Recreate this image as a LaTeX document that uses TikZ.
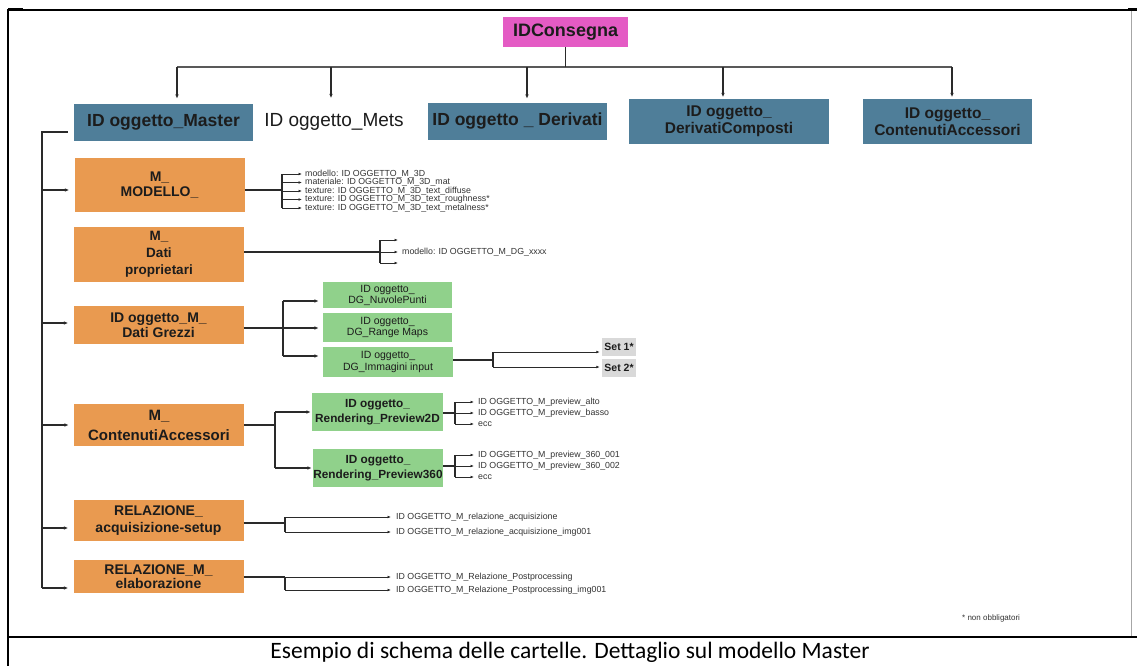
\documentclass[tikz,border=0pt]{standalone}
\usepackage{fontspec}
\setmainfont{Liberation Sans}
\newfontfamily\capfont{Carlito}
\usetikzlibrary{arrows.meta,calc}

\definecolor{pinkC}{HTML}{E45BC4}
\definecolor{blueC}{HTML}{4F7E99}
\definecolor{orangeC}{HTML}{E99A50}
\definecolor{greenC}{HTML}{90D18B}
\definecolor{grayC}{HTML}{D9D9D9}
\definecolor{lineC}{HTML}{2A2A2A}
\definecolor{txtC}{HTML}{1C1C1C}

\newcommand\fsz[2]{\fontsize{#1}{#2}\selectfont}

\begin{document}
\begin{tikzpicture}[x=1pt,y=-1pt,
  box/.style={draw=none, inner sep=0pt, align=center, text=txtC},
  bluebox/.style={box, fill=blueC},
  orbox/.style={box, fill=orangeC, minimum width=170pt},
  grbox/.style={box, fill=greenC},
  setbox/.style={box, fill=grayC, minimum width=34pt, minimum height=18pt, font=\fsz{10.5}{11}\bfseries},
  conn/.style={draw=lineC, line width=1.1pt},
  bus/.style={draw=black!65, line width=2pt},
  arr/.style={conn, -{Latex[length=4.5pt,width=3.6pt]}},
  sarr/.style={draw=lineC, line width=0.8pt, -{Latex[length=3.5pt,width=2.8pt]}},
  slabel/.style={anchor=west, inner sep=0pt, text=black!80, font=\fsz{8.8}{9}},
]
\useasboundingbox (0,0) rectangle (1137,666);
\fill[white] (0,0) rectangle (1137,666);

% table frame and caption row
\draw[black, line width=1.6pt] (8,666) -- (8,10) -- (1137,10);
\draw[black, line width=3pt] (8,10) -- (23,10);
\draw[black, line width=3pt] (1128,10) -- (1137,10);
\draw[black!35, line width=1pt] (1131,11) -- (1131,636);
\draw[black, line width=2pt] (8,637) -- (1137,637);
\node[font=\capfont\fsz{23.5}{26}] (cap) at (570,652) {Esempio di schema delle cartelle. Dettaglio sul modello Master};

% top level
\node[box, fill=pinkC, minimum width=125pt, minimum height=30pt, font=\fsz{18}{20}\bfseries] (cons) at (565.5,32) {IDConsegna};
\node[bluebox, minimum width=179pt, minimum height=37pt, font=\fsz{17.5}{19}\bfseries] (master) at (163.5,122.5) {ID oggetto\_Master};
\node[box, minimum height=37pt, font=\fsz{19}{21}] (mets) at (334,122) {ID oggetto\_Mets};
\node[bluebox, minimum width=179pt, minimum height=37pt, font=\fsz{17.5}{19}\bfseries] (deriv) at (517.5,121.5) {ID oggetto \_ Derivati};
\node[bluebox, minimum width=200pt, minimum height=45pt, font=\fsz{15.5}{17}\bfseries] (dcomp) at (729,121.5) {ID oggetto\_\\DerivatiComposti};
\node[bluebox, minimum width=169pt, minimum height=45pt, font=\fsz{15.5}{17}\bfseries] (cacc) at (947.5,121.5) {ID oggetto\_\\ContenutiAccessori};

\coordinate (b1) at (177,67);
\coordinate (b2) at (331,67);
\coordinate (b3) at (527,67);
\coordinate (b4) at (723,67);
\coordinate (b5) at (952,67);
\draw[bus] (b1) -- (b5);
\draw[conn] (cons.south) -- (cons.south |- b1);
\draw[arr, shorten >=5pt] (b1) -- (b1 |- master.north);
\draw[arr, shorten >=5pt] (b2) -- (b2 |- mets.north);
\draw[arr, shorten >=4pt] (b3) -- (b3 |- deriv.north);
\draw[arr, shorten >=1.5pt] (b4) -- (b4 |- dcomp.north);
\draw[arr, shorten >=1.5pt] (b5) -- (b5 |- cacc.north);

% folders of the Master model
\node[orbox, minimum height=54pt, font=\fsz{14}{15}\bfseries] (modello) at (159.5,185) {M\_\\MODELLO\_};
\node[orbox, minimum height=55pt, font=\fsz{13.5}{17}\bfseries] (datiprop) at (159,254.5) {M\_\\Dati\\proprietari};
\node[orbox, minimum height=38pt, font=\fsz{14}{15}\bfseries] (grezzi) at (158.5,325) {ID oggetto\_M\_\\Dati Grezzi};
\node[orbox, minimum height=42pt, font=\fsz{15}{20}\bfseries] (contacc) at (159,425) {M\_\\ContenutiAccessori};
\node[orbox, minimum height=41pt, font=\fsz{14}{17}\bfseries] (relacq) at (158.5,520.5) {RELAZIONE\_\\acquisizione-setup};
\node[orbox, minimum height=33pt, font=\fsz{14}{14.5}\bfseries] (relelab) at (158.5,576.5) {RELAZIONE\_M\_\\elaborazione};

% trunk on the left
\coordinate (tTop) at (42,132);
\coordinate (tMod) at (42,190);
\coordinate (tGre) at (42,323);
\coordinate (tCon) at (42,425);
\coordinate (tAcq) at (42,528);
\coordinate (tBot) at (42,588);
\draw[conn] ($(master.west)+(-6,9.5)$) -- (tTop) -- (tBot);
\draw[arr, shorten >=5pt] (tMod) -- (tMod -| modello.west);
\draw[arr, shorten >=5pt] (tGre) -- (tGre -| grezzi.west);
\draw[arr, shorten >=5pt] (tCon) -- (tCon -| contacc.west);
\draw[arr, shorten >=5pt] (tAcq) -- (tAcq -| relacq.west);
\draw[arr, shorten >=5pt] (tBot) -- (tBot -| relelab.west);

% MODELLO files
\node[slabel] (t1) at (305,174) {modello: ID OGGETTO\_M\_3D};
\node[slabel] (t2) at (305,182.5) {materiale: ID OGGETTO\_M\_3D\_mat};
\node[slabel] (t3) at (305,191) {texture: ID OGGETTO\_M\_3D\_text\_diffuse};
\node[slabel] (t4) at (305,199.5) {texture: ID OGGETTO\_M\_3D\_text\_roughness*};
\node[slabel] (t5) at (305,208) {texture: ID OGGETTO\_M\_3D\_text\_metalness*};
\coordinate (mA) at (282,190);
\draw[conn] (mA -| modello.east) -- (mA);
\draw[conn] (t1.west -| mA) -- (t5.west -| mA);
\foreach \t in {t1,t2,t3,t4,t5}
  \draw[sarr, shorten >=3pt] (\t.west -| mA) -- (\t.west);

% Dati proprietari files
\coordinate (dA) at (380,252);
\node[slabel] (d2) at (402,252) {modello: ID OGGETTO\_M\_DG\_xxxx};
\coordinate (d1) at (398,240);
\coordinate (d3) at (398,263);
\draw[conn] (dA -| datiprop.east) -- (dA);
\draw[conn] (d1 -| dA) -- (d3 -| dA);
\draw[sarr] (d1 -| dA) -- (d1);
\draw[sarr, shorten >=4pt] (dA) -- (d2.west);
\draw[sarr] (d3 -| dA) -- (d3);

% Dati Grezzi subfolders
\node[grbox, minimum width=129pt, minimum height=26pt, font=\fsz{10.5}{11}] (nuv) at (387.5,295) {ID oggetto\_\\DG\_NuvolePunti};
\node[grbox, minimum width=129pt, minimum height=29pt, font=\fsz{10.5}{11.5}] (range) at (387.5,327.5) {ID oggetto\_\\DG\_Range Maps};
\node[grbox, minimum width=130pt, minimum height=30pt, font=\fsz{10.5}{12}] (imm) at (388,362) {ID oggetto\_\\DG\_Immagini input};
\coordinate (gA) at (283,328);
\coordinate (g1) at (283,301);
\coordinate (g3) at (283,356);
\draw[conn] (g1) -- (g3);
\draw[arr, shorten >=4pt] (gA -| grezzi.east) -- (gA -| range.west);
\draw[arr, shorten >=4pt] (g1) -- (g1 -| nuv.west);
\draw[arr, shorten >=4pt] (g3) -- (g3 -| imm.west);

% image sets
\node[setbox] (set1) at (619,347) {Set 1*};
\node[setbox] (set2) at (619,368) {Set 2*};
\coordinate (iA) at (493,360);
\coordinate (i1) at (493,352);
\coordinate (i2) at (493,367);
\draw[conn] (iA -| imm.east) -- (iA);
\draw[conn] (i1) -- (i2);
\draw[sarr, shorten >=2pt] (i1) -- (i1 -| set1.west);
\draw[sarr, shorten >=2pt] (i2) -- (i2 -| set2.west);

% ContenutiAccessori subfolders
\node[grbox, minimum width=131pt, minimum height=38pt, font=\fsz{11.8}{15.5}\bfseries] (p2d) at (377.5,412) {ID oggetto\_\\Rendering\_Preview2D};
\node[grbox, minimum width=130pt, minimum height=38pt, font=\fsz{11.8}{15.5}\bfseries] (p360) at (378,468) {ID oggetto\_\\Rendering\_Preview360};
\coordinate (cA) at (275,425);
\draw[conn] (cA -| contacc.east) -- (cA);
\draw[conn] (p2d.west -| cA) -- (p360.west -| cA);
\draw[arr, shorten >=1pt] (p2d.west -| cA) -- (p2d.west);
\draw[arr, shorten >=1pt] (p360.west -| cA) -- (p360.west);

% preview files
\node[slabel] (q1) at (478,402) {ID OGGETTO\_M\_preview\_alto};
\node[slabel] (q2) at (478,413) {ID OGGETTO\_M\_preview\_basso};
\node[slabel] (q3) at (478,424) {ecc};
\coordinate (pA) at (455,413);
\draw[conn] (pA -| p2d.east) -- (pA);
\draw[conn] (q1.west -| pA) -- (q3.west -| pA);
\foreach \t in {q1,q2,q3}
  \draw[sarr, shorten >=4pt] (\t.west -| pA) -- (\t.west);

\node[slabel] (r1) at (478,455) {ID OGGETTO\_M\_preview\_360\_001};
\node[slabel] (r2) at (478,466) {ID OGGETTO\_M\_preview\_360\_002};
\node[slabel] (r3) at (478,477) {ecc};
\coordinate (rA) at (455,466);
\draw[conn] (rA -| p360.east) -- (rA);
\draw[conn] (r1.west -| rA) -- (r3.west -| rA);
\foreach \t in {r1,r2,r3}
  \draw[sarr, shorten >=4pt] (\t.west -| rA) -- (\t.west);

% report files
\node[slabel] (a1) at (396,517) {ID OGGETTO\_M\_relazione\_acquisizione};
\node[slabel] (a2) at (396,532) {ID OGGETTO\_M\_relazione\_acquisizione\_img001};
\coordinate (aA) at (285,523);
\draw[conn] (aA -| relacq.east) -- (aA);
\draw[conn] (a1.west -| aA) -- (a2.west -| aA);
\draw[sarr, shorten >=5pt] (a1.west -| aA) -- (a1.west);
\draw[sarr, shorten >=5pt] (a2.west -| aA) -- (a2.west);

\node[slabel] (e1) at (396,577) {ID OGGETTO\_M\_Relazione\_Postprocessing};
\node[slabel] (e2) at (396,590) {ID OGGETTO\_M\_Relazione\_Postprocessing\_img001};
\coordinate (eA) at (285,577);
\draw[conn] (eA -| relelab.east) -- (eA);
\draw[conn] (e1.west -| eA) -- (e2.west -| eA);
\draw[sarr, shorten >=5pt] (e1.west -| eA) -- (e1.west);
\draw[sarr, shorten >=5pt] (e2.west -| eA) -- (e2.west);

% footnote
\node[slabel, font=\fsz{8}{9}] (nota) at (962,618) {* non obbligatori};
\end{tikzpicture}
\end{document}
